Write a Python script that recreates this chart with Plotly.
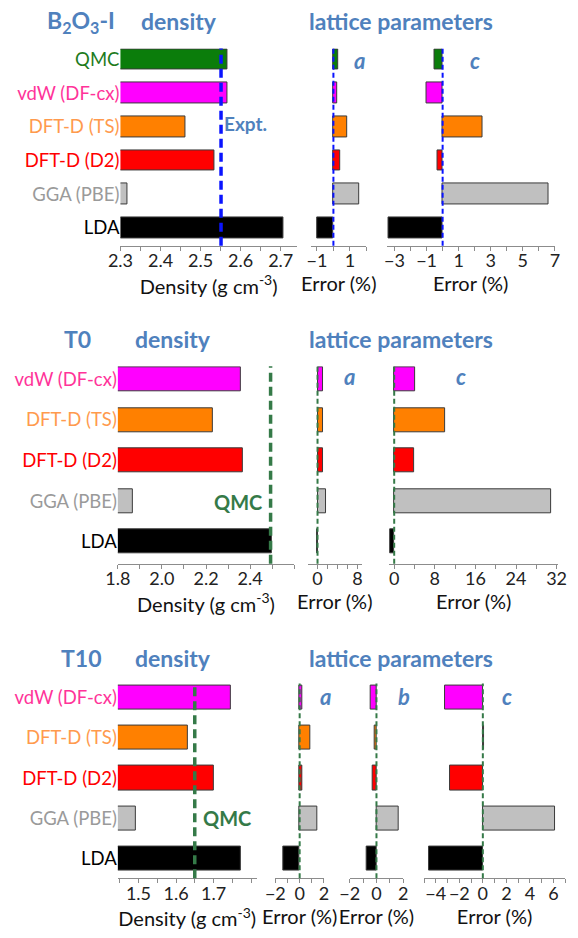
import plotly.graph_objects as go

W, H = 578, 938

# ---------------- data ----------------
methods_b2o3 = ["LDA", "GGA (PBE)", "DFT-D (D2)", "DFT-D (TS)", "vdW (DF-cx)", "QMC"]
methods_t = ["LDA", "GGA (PBE)", "DFT-D (D2)", "DFT-D (TS)", "vdW (DF-cx)"]

bar_colors = {"LDA": "#000000", "GGA (PBE)": "#c0c0c0", "DFT-D (D2)": "#ff0000",
              "DFT-D (TS)": "#ff8000", "vdW (DF-cx)": "#ff00ff", "QMC": "#0b7d0b"}
label_colors = {"LDA": "#000000", "GGA (PBE)": "#9a9a9a", "DFT-D (D2)": "#ff0000",
                "DFT-D (TS)": "#ff9a4d", "vdW (DF-cx)": "#ff3399", "QMC": "#1e7b1e"}

# B2O3-I
b2o3_density = [2.706, 2.317, 2.535, 2.463, 2.566, 2.566]
b2o3_a = [-0.96, 1.56, 0.42, 0.83, 0.21, 0.30]
b2o3_c = [-3.4, 6.6, -0.35, 2.47, -0.98, -0.53]
b2o3_expt = 2.551

# T0
t0_density = [2.50, 1.867, 2.365, 2.229, 2.358]
t0_a = [-0.2, 1.67, 1.04, 1.1, 1.17]
t0_c = [-0.76, 30.87, 3.98, 10.04, 4.05]
t0_qmc = 2.493

# T10
t10_density = [1.772, 1.494, 1.701, 1.631, 1.747]
t10_a = [-1.37, 1.44, 0.25, 0.9, 0.2]
t10_b = [-0.7, 1.67, -0.27, -0.1, -0.45]
t10_c = [-4.6, 6.1, -2.8, 0.12, -3.2]
t10_qmc = 1.650

# tick labels
b2o3_density_ticks = [2.3, 2.4, 2.5, 2.6, 2.7]
t0_density_ticks = [1.8, 2.0, 2.2, 2.4]
t10_density_ticks = [1.5, 1.6, 1.7]

TITLE_BLUE = "#4f81bd"
EXPT_BLUE = "#0a14ff"
QMC_GREEN = "#357a48"
FONT = "Lato"
TICK_SIZE = 18
LABEL_SIZE = 18.5
AXTITLE_SIZE = 20


def xd(l, r):
    return [l / W, r / W]


def yd(top, bottom):
    return [1 - bottom / H, 1 - top / H]


fig = go.Figure()
layout = {}
shapes = []
annotations = []

axis_counter = [0]


def add_subplot(values, methods, xdom, ydom, xrange, yrange, bar_w,
                dtick, tick0, minor_dtick, show_labels, xtitle, tickformat=None,
                ref_x=None, ref_color=None, ref_width=2, tickvals=None, dash="dash"):
    axis_counter[0] += 1
    i = axis_counter[0]
    xn = "x" if i == 1 else f"x{i}"
    yn = "y" if i == 1 else f"y{i}"
    xk = "xaxis" if i == 1 else f"xaxis{i}"
    yk = "yaxis" if i == 1 else f"yaxis{i}"
    idx = list(range(len(methods)))
    fig.add_trace(go.Bar(
        x=values, y=idx, orientation="h", base=0, width=bar_w,
        marker=dict(color=[bar_colors[m] for m in methods],
                    line=dict(color="#3a3a3a", width=1)),
        xaxis=xn, yaxis=yn, showlegend=False, hoverinfo="x"))
    xa = dict(domain=xdom, anchor=yn, range=xrange, showgrid=False, zeroline=False,
              showline=True, linecolor="#8c8c8c", linewidth=1,
              ticks="outside", ticklen=4, tickcolor="#8c8c8c", tickwidth=1,
              ticklabelstandoff=-5,
              minor=dict(dtick=minor_dtick, tick0=tick0, ticks="outside", ticklen=4,
                         tickcolor="#8c8c8c", tickwidth=1, showgrid=False),
              tickfont=dict(family=FONT, size=TICK_SIZE, color="#222222"),
              title=dict(text=xtitle, font=dict(family=FONT, size=AXTITLE_SIZE, color="#111111"),
                         standoff=6),
              fixedrange=True)
    if tickvals is not None:
        xa.update(tickmode="array", tickvals=tickvals)
    else:
        xa.update(tick0=tick0, dtick=dtick)
    if tickformat:
        xa["tickformat"] = tickformat
    ya = dict(domain=ydom, anchor=xn, range=yrange, showgrid=False, zeroline=False,
              showline=False, ticks="", fixedrange=True)
    if show_labels:
        ya.update(tickmode="array", tickvals=idx,
                  ticktext=[f'<span style="color:{label_colors[m]}">{m}</span>' for m in methods],
                  tickfont=dict(family=FONT, size=LABEL_SIZE), showticklabels=True)
    else:
        ya.update(showticklabels=False)
    layout[xk] = xa
    layout[yk] = ya
    if ref_x is not None:
        shapes.append(dict(type="line", xref=xn, yref=f"{yn} domain",
                           x0=ref_x, x1=ref_x, y0=0, y1=1,
                           line=dict(color=ref_color, width=ref_width, dash=dash)))


ERR = "Error (%)"
DEN = "Density (g cm<sup>-3</sup>)"
BIGDASH = "9px,5px"
SMALLDASH = "5px,3px"

# ---- panel 1: B2O3-I ----
y1 = yd(47.5, 245)
r1 = [-0.533, 5.325]
add_subplot(b2o3_density, methods_b2o3, xd(111.7, 295), y1, [2.3, 2.74], r1, 0.62,
            0.1, 2.3, 0.05, True, DEN, ".1f", b2o3_expt, EXPT_BLUE, 3.5,
            tickvals=b2o3_density_ticks, dash=BIGDASH)
add_subplot(b2o3_a, methods_b2o3, xd(310, 367.3), y1, [-1.35, 2.0], r1, 0.62,
            2, -1, 1, False, ERR, None, 0, EXPT_BLUE, 2, dash=SMALLDASH)
add_subplot(b2o3_c, methods_b2o3, xd(388.3, 563.3), y1, [-3.5, 7], r1, 0.62,
            2, -3, 1, False, ERR, None, 0, EXPT_BLUE, 2, dash=SMALLDASH)

# ---- panel 2: T0 ----
y2 = yd(365.7, 563.3)
r2 = [-0.54, 4.32]
add_subplot(t0_density, methods_t, xd(109, 292.3), y2, [1.8, 2.6], r2, 0.59,
            0.2, 1.8, 0.1, True, DEN, ".1f", t0_qmc, QMC_GREEN, 3.5,
            tickvals=t0_density_ticks, dash=BIGDASH)
add_subplot(t0_a, methods_t, xd(306.7, 362.3), y2, [-1.9, 8.8], r2, 0.59,
            8, 0, 2, False, ERR, None, 0, QMC_GREEN, 2, dash=SMALLDASH)
add_subplot(t0_c, methods_t, xd(391, 566.7), y2, [-1, 32.3], r2, 0.59,
            8, 0, 4, False, ERR, None, 0, QMC_GREEN, 2, dash=SMALLDASH)

# ---- panel 3: T10 ----
y3 = yd(683.3, 878.3)
r3 = [-0.485, 4.34]
add_subplot(t10_density, methods_t, xd(109, 253.3), y3, [1.445, 1.815], r3, 0.6,
            0.1, 1.5, 0.05, True, DEN, ".1f", t10_qmc, QMC_GREEN, 3.5,
            tickvals=t10_density_ticks, dash=BIGDASH)
add_subplot(t10_a, methods_t, xd(272.7, 323.3), y3, [-2, 2], r3, 0.6,
            2, 0, 1, False, ERR, None, 0, QMC_GREEN, 2, dash=SMALLDASH)
add_subplot(t10_b, methods_t, xd(350, 405.7), y3, [-2, 2], r3, 0.6,
            2, 0, 1, False, ERR, None, 0, QMC_GREEN, 2, dash=SMALLDASH)
add_subplot(t10_c, methods_t, xd(427.3, 574), y3, [-5, 7], r3, 0.6,
            2, 0, 1, False, ERR, None, 0, QMC_GREEN, 2, dash=SMALLDASH)


def ann(text, xc, yc, size=23, color=TITLE_BLUE, italic=False, xanchor="center"):
    t = f"<b>{text}</b>"
    if italic:
        t = f"<i>{t}</i>"
    annotations.append(dict(text=t, x=xc / W, y=1 - yc / H, xref="paper", yref="paper",
                            xanchor=xanchor, yanchor="middle", showarrow=False,
                            font=dict(family=FONT, size=size, color=color)))


# titles
ann("B<sub>2</sub>O<sub>3</sub>-I", 71, 21)
ann("density", 173, 20)
ann("lattice parameters", 403.5, 20)
ann("T0", 66.7, 338.5)
ann("density", 166.7, 338.5)
ann("lattice parameters", 403.5, 338.5)
ann("T10", 70.5, 657.7)
ann("density", 166.7, 657.7)
ann("lattice parameters", 403.5, 657.7)

# a/b/c labels
ann("a", 360, 60, 22, italic=True)
ann("c", 480, 60, 22, italic=True)
ann("a", 350, 376, 22, italic=True)
ann("c", 466, 376, 22, italic=True)
ann("a", 325, 696, 22, italic=True)
ann("b", 406.7, 696, 22, italic=True)
ann("c", 513.3, 696, 22, italic=True)

# reference-line labels
ann("Expt.", 242, 123, 19)
ann("QMC", 234, 501.5, 20, color=QMC_GREEN)
ann("QMC", 222.5, 817.5, 20, color=QMC_GREEN)

fig.update_layout(**layout)
fig.update_layout(width=W, height=H, margin=dict(l=0, r=0, t=0, b=0),
                  paper_bgcolor="white", plot_bgcolor="white",
                  shapes=shapes, annotations=annotations, bargap=0,
                  font=dict(family=FONT))
fig.write_html("out.html")
